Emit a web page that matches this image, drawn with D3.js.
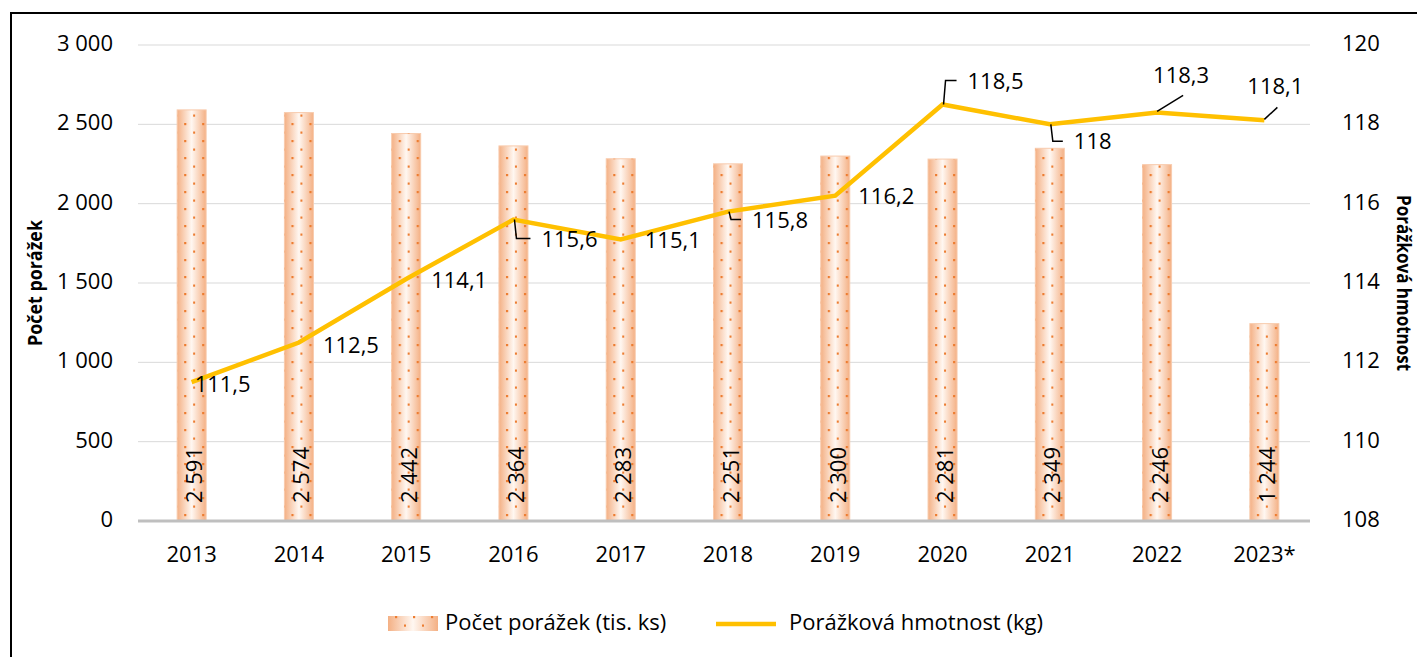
<!DOCTYPE html>
<html>
<head>
<meta charset="utf-8">
<script src="https://cdn.jsdelivr.net/npm/d3@7"></script>
<style>
  body { margin: 0; background: #fff; }
  svg { display: block; font-family: "Open Sans", sans-serif; }
</style>
</head>
<body>
<div id="chart"></div>
<script>
// --- Data ---
const years = ["2013", "2014", "2015", "2016", "2017", "2018", "2019", "2020", "2021", "2022", "2023*"];
const slaughterCount = [2591, 2574, 2442, 2364, 2283, 2251, 2300, 2281, 2349, 2246, 1244];
const carcassWeight = [111.5, 112.5, 114.1, 115.6, 115.1, 115.8, 116.2, 118.5, 118, 118.3, 118.1];
const leftTicks = [0, 500, 1000, 1500, 2000, 2500, 3000];
const rightTicks = [108, 110, 112, 114, 116, 118, 120];

// label placement relative to its point: [dx, dy of text centre, leader type]
const weightLabelPos = [
  [3, 2, null], [24, 2, null], [25, 1, null], [28, 19, "elbow"], [24, 1, null],
  [24, 8, "elbow"], [23, 0, null], [25, -24, "elbow"], [24, 17, "elbow"], [-4, -37, "diag"], [-17, -34, "diag"]
];

const width = 1417;
const height = 657;
const margin = { top: 45, right: 99, bottom: 136, left: 138 };
const fs = "22px";
const titleFs = "20px";

const fmt = v => d3.format(",")(v).replace(/,/g, " ");
const fmtDec = v => String(v).replace(".", ",");

const svg = d3.select("#chart").append("svg")
  .attr("width", width)
  .attr("height", height);

// frame
svg.append("rect")
  .attr("x", 11).attr("y", 13)
  .attr("width", width + 20).attr("height", height + 20)
  .attr("fill", "none").attr("stroke", "#000").attr("stroke-width", 2);

// --- Defs ---
const defs = svg.append("defs");
const grad = defs.append("linearGradient").attr("id", "barGrad")
  .attr("x1", "0%").attr("x2", "100%").attr("y1", "0%").attr("y2", "0%");
grad.append("stop").attr("offset", "0%").attr("stop-color", "#f4b084");
grad.append("stop").attr("offset", "50%").attr("stop-color", "#fff7f1");
grad.append("stop").attr("offset", "100%").attr("stop-color", "#f4b084");

// dotted fill, aligned to each bar's own left edge (bars are drawn at x=0 in a shifted group)
const dots = defs.append("pattern").attr("id", "barDots")
  .attr("patternUnits", "userSpaceOnUse")
  .attr("width", 18).attr("height", 17);
dots.append("rect").attr("x", 7).attr("y", 4).attr("width", 2.2).attr("height", 2.2).attr("fill", "#ed7d31");
dots.append("rect").attr("x", 16).attr("y", 12.5).attr("width", 2.2).attr("height", 2.2).attr("fill", "#ed7d31");

// --- Scales ---
const x = d3.scaleBand()
  .domain(years)
  .range([margin.left, width - margin.right]);
const cx = d => x(d) + x.bandwidth() / 2;

const yL = d3.scaleLinear().domain([0, 3000]).range([height - margin.bottom, margin.top]);
const yR = d3.scaleLinear().domain([108, 120]).range([height - margin.bottom, margin.top]);

// --- Grid ---
svg.append("g")
  .selectAll("line")
  .data(leftTicks.filter(t => t > 0))
  .join("line")
  .attr("x1", margin.left).attr("x2", width - margin.right - 8)
  .attr("y1", d => yL(d)).attr("y2", d => yL(d))
  .attr("stroke", "#d9d9d9").attr("stroke-width", 1);

// --- Bars ---
const barW = 29;
const barSel = svg.append("g").selectAll("g")
  .data(years.map((y, i) => ({ year: y, value: slaughterCount[i] })))
  .join("g")
  .attr("transform", d => `translate(${cx(d.year) - barW / 2}, 0)`);

barSel.append("rect")
  .attr("x", 0)
  .attr("y", d => yL(d.value))
  .attr("width", barW)
  .attr("height", d => yL(0) - yL(d.value))
  .attr("fill", "url(#barGrad)")
  .attr("stroke", "#f8cbad").attr("stroke-width", 1);

barSel.append("rect")
  .attr("x", 0)
  .attr("y", d => yL(d.value))
  .attr("width", barW)
  .attr("height", d => yL(0) - yL(d.value))
  .attr("fill", "url(#barDots)");

barSel.append("text")
  .attr("transform", `translate(${barW / 2 + 10.5}, ${yL(0) - 18}) rotate(-90)`)
  .attr("font-size", fs)
  .attr("fill", "#000")
  .text(d => fmt(d.value));

// --- Baseline ---
svg.append("line")
  .attr("x1", margin.left).attr("x2", width - margin.right - 8)
  .attr("y1", yL(0)).attr("y2", yL(0))
  .attr("stroke", "#bfbfbf").attr("stroke-width", 3);

// --- Axis labels ---
svg.append("g")
  .selectAll("text")
  .data(leftTicks)
  .join("text")
  .attr("x", 113).attr("y", d => yL(d) + 6)
  .attr("text-anchor", "end")
  .attr("font-size", fs)
  .text(d => fmt(d));

svg.append("g")
  .selectAll("text")
  .data(rightTicks)
  .join("text")
  .attr("x", 1342).attr("y", d => yR(d) + 6)
  .attr("font-size", fs)
  .text(d => d);

svg.append("g")
  .selectAll("text")
  .data(years)
  .join("text")
  .attr("x", d => cx(d))
  .attr("y", yL(0) + 41)
  .attr("text-anchor", "middle")
  .attr("font-size", fs)
  .text(d => d);

// axis titles: condensed bold, squeezed to the reference lengths
svg.append("text")
  .attr("transform", `translate(42, ${(yL(0) + yL(3000)) / 2}) rotate(-90)`)
  .attr("text-anchor", "middle")
  .attr("font-size", titleFs)
  .attr("font-weight", "bold")
  .attr("textLength", 126)
  .attr("lengthAdjust", "spacingAndGlyphs")
  .text("Počet porážek");

svg.append("text")
  .attr("transform", `translate(1397, ${(yL(0) + yL(3000)) / 2}) rotate(90)`)
  .attr("text-anchor", "middle")
  .attr("font-size", titleFs)
  .attr("font-weight", "bold")
  .attr("textLength", 176)
  .attr("lengthAdjust", "spacingAndGlyphs")
  .text("Porážková hmotnost");

// --- Line ---
const pts = years.map((y, i) => ({ year: y, value: carcassWeight[i], pos: weightLabelPos[i] }));
const line = d3.line()
  .x(d => cx(d.year))
  .y(d => yR(d.value));

svg.append("path")
  .datum(pts)
  .attr("d", line)
  .attr("fill", "none")
  .attr("stroke", "#ffc000")
  .attr("stroke-width", 4.5)
  .attr("stroke-linejoin", "miter");

// --- Line labels ---
const lbl = svg.append("g").selectAll("g").data(pts).join("g");

lbl.append("path")
  .filter(d => d.pos[2])
  .attr("d", d => {
    const px = cx(d.year);
    const py = yR(d.value);
    const ty = py + d.pos[1];
    if (d.pos[2] === "diag") {
      // short slanted leader towards the label
      return d.pos[0] > -10
        ? `M${px},${py - 1} L${px + 26},${py - 17}`
        : `M${px},${py - 1} L${px + 13},${py - 13}`;
    }
    const tx = px + d.pos[0] - 11;
    return `M${px + 1},${py} L${px + 3},${ty} L${tx},${ty}`;
  })
  .attr("fill", "none").attr("stroke", "#000").attr("stroke-width", 1.5);

lbl.append("text")
  .attr("x", d => cx(d.year) + d.pos[0])
  .attr("y", d => yR(d.value) + d.pos[1] + 8)
  .attr("font-size", fs)
  .text(d => fmtDec(d.value));

// --- Legend ---
const leg = svg.append("g").attr("transform", "translate(388, 0)");
leg.append("rect").attr("x", 0).attr("y", 616).attr("width", 50).attr("height", 15)
  .attr("fill", "url(#barGrad)");
leg.append("rect").attr("x", 0).attr("y", 616).attr("width", 50).attr("height", 15)
  .attr("fill", "url(#barDots)");
leg.append("text").attr("x", 57).attr("y", 630).attr("font-size", fs).text("Počet porážek (tis. ks)");
leg.append("line").attr("x1", 328).attr("x2", 388).attr("y1", 624).attr("y2", 624)
  .attr("stroke", "#ffc000").attr("stroke-width", 4.5);
leg.append("text").attr("x", 401).attr("y", 630).attr("font-size", fs).text("Porážková hmotnost (kg)");
</script>
</body>
</html>
